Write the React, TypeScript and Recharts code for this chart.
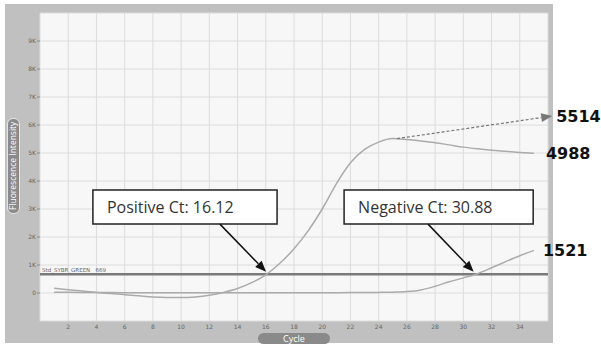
import React from "react";
import {
  ComposedChart,
  Line,
  XAxis,
  YAxis,
  CartesianGrid,
  ReferenceLine,
  ReferenceArea,
  ReferenceDot,
} from "recharts";

// amplification curves, cycles 1..35
const cycles = [
  1, 2, 3, 4, 5, 6, 7, 8, 9, 10, 11, 12, 13, 14, 15, 16, 17, 18, 19, 20, 21, 22, 23, 24, 25, 26, 27,
  28, 29, 30, 31, 32, 33, 34, 35,
];
const positive = [
  170, 120, 70, 20, -20, -60, -100, -140, -160, -165, -140, -80, 20, 160, 370, 650, 1060, 1580,
  2220, 3000, 3900, 4650, 5130, 5390, 5514, 5480, 5430, 5370, 5290, 5210, 5150, 5100, 5060, 5020,
  4988,
];
const negative = [
  30, 25, 20, 18, 15, 12, 10, 10, 8, 8, 8, 8, 8, 8, 8, 8, 8, 10, 10, 12, 12, 15, 18, 22, 30, 50, 110,
  240, 400, 540, 690, 900, 1120, 1330, 1521,
];

const xTicks = [2, 4, 6, 8, 10, 12, 14, 16, 18, 20, 22, 24, 26, 28, 30, 32, 34];
const yTicks = [0, 1000, 2000, 3000, 4000, 5000, 6000, 7000, 8000, 9000];

const threshold = 669;
const positiveCt = 16.12;
const negativeCt = 30.88;

const data = cycles.map((c, i) => ({ cycle: c, pos: positive[i], neg: negative[i] }));

const Arrow = (props: any) => {
  const { x1, y1, x2, y2, stroke, strokeDasharray, strokeWidth } = props;
  const a = Math.atan2(y2 - y1, x2 - x1);
  const len = 11;
  const w = 4.5;
  const bx = x2 - len * Math.cos(a);
  const by = y2 - len * Math.sin(a);
  const px = -Math.sin(a) * w;
  const py = Math.cos(a) * w;
  return (
    <g>
      <line x1={x1} y1={y1} x2={bx} y2={by} stroke={stroke} strokeWidth={strokeWidth} strokeDasharray={strokeDasharray} />
      <polygon points={`${x2},${y2} ${bx + px},${by + py} ${bx - px},${by - py}`} fill={stroke} />
    </g>
  );
};

const endLabel = (value: string, offset: number) => ({
  value,
  position: "right" as const,
  offset,
  fill: "#111",
  fontSize: 16,
  fontWeight: 700,
  fontFamily: "DejaVu Sans",
});

const boxLabel = (value: string) => ({
  value,
  position: "insideLeft" as const,
  offset: 14,
  fill: "#333",
  fontSize: 16,
  fontFamily: "Open Sans",
});

export default function App() {
  return (
    <div style={{ position: "absolute", left: 0, top: 0, width: 601, height: 346, background: "#fff" }}>
      <div style={{ position: "absolute", left: 5, top: 4, width: 548, height: 339, background: "#c0c0c0" }} />
      <div style={{ position: "absolute", left: 0, top: 0 }}>
        <ComposedChart width={601} height={346} data={data} margin={{ top: 13, right: 53, bottom: 0, left: 5 }}>
          <CartesianGrid fill="#f7f7f7" fillOpacity={1} stroke="#dcdcdc" strokeWidth={1} />
          <XAxis
            dataKey="cycle"
            type="number"
            domain={[0, 36]}
            ticks={xTicks}
            height={25}
            tickLine={false}
            axisLine={false}
            tickSize={0}
            tickMargin={4}
            tick={{ fontSize: 6, fill: "#666", fontFamily: "DejaVu Sans" }}
          />
          <YAxis
            type="number"
            domain={[-1000, 10000]}
            ticks={yTicks}
            width={35}
            axisLine={false}
            tickSize={3}
            tickMargin={1}
            tickLine={{ stroke: "#888" }}
            tickFormatter={(v: number) => (v === 0 ? "0" : `${v / 1000}K`)}
            tick={{ fontSize: 6, fill: "#666", fontFamily: "DejaVu Sans" }}
          />
          <ReferenceLine
            y={threshold}
            stroke="#7a7a7a"
            strokeWidth={2.5}
            label={{
              value: `Std_SYBR_GREEN\u00a0\u00a0\u00a0${threshold}`,
              position: "insideBottomLeft",
              offset: 2,
              fontSize: 5.5,
              fill: "#666",
              fontFamily: "DejaVu Sans",
            }}
          />
          <Line dataKey="neg" type="monotone" stroke="#ababab" strokeWidth={1.5} dot={false} isAnimationActive={false} />
          <Line dataKey="pos" type="monotone" stroke="#ababab" strokeWidth={1.5} dot={false} isAnimationActive={false} />
          <ReferenceLine
            segment={[
              { x: 25.3, y: 5514 },
              { x: 36.3, y: 6320 },
            ]}
            stroke="#777"
            strokeWidth={1.2}
            strokeDasharray="3 2"
            ifOverflow="visible"
            shape={Arrow}
          />
          <ReferenceArea x1={3.75} x2={16.8} y1={2460} y2={3680} fill="#fff" fillOpacity={1} stroke="#222" strokeWidth={1.5} label={boxLabel(`Positive Ct: ${positiveCt}`)} />
          <ReferenceArea x1={21.55} x2={34.95} y1={2460} y2={3680} fill="#fff" fillOpacity={1} stroke="#222" strokeWidth={1.5} label={boxLabel(`Negative Ct: ${negativeCt}`)} />
          <ReferenceLine
            segment={[
              { x: 12.75, y: 2460 },
              { x: positiveCt - 0.1, y: 760 },
            ]}
            stroke="#111"
            strokeWidth={1.5}
            shape={Arrow}
          />
          <ReferenceLine
            segment={[
              { x: 27.5, y: 2460 },
              { x: negativeCt - 0.15, y: 760 },
            ]}
            stroke="#111"
            strokeWidth={1.5}
            shape={Arrow}
          />
          <ReferenceDot x={36.3} y={6320} r={0} ifOverflow="visible" label={endLabel("5514", 4)} />
          <ReferenceDot x={35} y={4988} r={0} ifOverflow="visible" label={endLabel("4988", 12)} />
          <ReferenceDot x={35} y={1521} r={0} ifOverflow="visible" label={endLabel("1521", 9)} />
        </ComposedChart>
      </div>
      <div
        style={{
          position: "absolute",
          left: 7,
          top: 118,
          width: 11,
          height: 94,
          background: "#8a8a8a",
          border: "1px solid #e6e6e6",
          borderRadius: 6,
          color: "#fff",
          fontFamily: "Open Sans",
          fontSize: 8.5,
          writingMode: "vertical-rl",
          transform: "rotate(180deg)",
          display: "flex",
          alignItems: "center",
          justifyContent: "center",
          whiteSpace: "nowrap",
          lineHeight: 1,
        }}
      >
        Fluorescence Intensity
      </div>
      <div
        style={{
          position: "absolute",
          left: 258,
          top: 333,
          width: 72,
          height: 11,
          background: "#8a8a8a",
          borderRadius: 6,
          color: "#fff",
          fontFamily: "Open Sans",
          fontSize: 9,
          display: "flex",
          alignItems: "center",
          justifyContent: "center",
          lineHeight: 1,
        }}
      >
        Cycle
      </div>
    </div>
  );
}
